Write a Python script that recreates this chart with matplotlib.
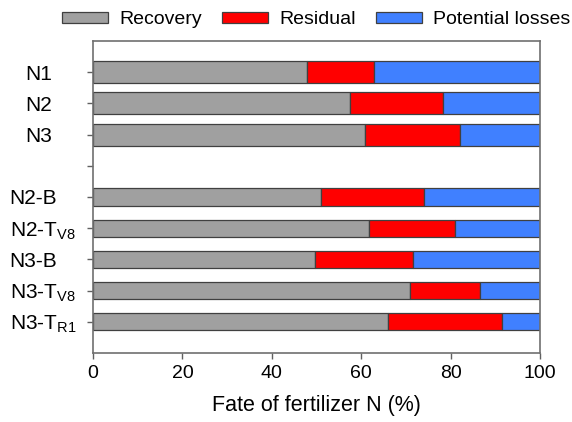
import matplotlib
matplotlib.use("Agg")
import matplotlib.pyplot as plt
import numpy as np

plt.rcParams['font.family'] = ['Liberation Sans', 'DejaVu Sans']
plt.rcParams['mathtext.fontset'] = 'custom'
plt.rcParams['mathtext.rm'] = 'Liberation Sans'

categories = ['N1', 'N2', 'N3', '', 'N2-B', r'N2-T$_\mathregular{V8}$', 'N3-B',
              r'N3-T$_\mathregular{V8}$', r'N3-T$_\mathregular{R1}$']
recovery = [47.8, 57.5, 60.9, np.nan, 51.1, 61.7, 49.7, 70.9, 66.1]
residual = [15.1, 20.7, 21.1, np.nan, 22.9, 19.3, 22.0, 15.6, 25.3]
losses = [37.1, 21.8, 18.0, np.nan, 26.0, 19.0, 28.3, 13.5, 8.6]
series_names = ['Recovery', 'Residual', 'Potential losses']
colors = ['#A0A0A0', '#FF0000', '#4080FF']

fig = plt.figure(figsize=(5.72, 4.22), dpi=100)
ax = fig.add_axes([93/572, 1-353/422, (540-93)/572, (353-41)/422])

y = np.arange(len(categories))
heights = np.array([0.70 if i < 3 else 0.55 for i in range(len(categories))])
rec = np.array(recovery, dtype=float)
valid = ~np.isnan(rec)
left = np.zeros(valid.sum())
for vals, name, col in zip([recovery, residual, losses], series_names, colors):
    v = np.array(vals, dtype=float)[valid]
    ax.barh(y[valid], v, left=left, height=heights[valid], color=col,
            edgecolor='#404040', linewidth=0.9, label=name)
    left = left + v

ax.set_xlim(0, 100)
ax.set_ylim(9, -1)
ax.set_xticks([0, 20, 40, 60, 80, 100])
ax.set_yticks(y)
ax.set_yticklabels(categories, fontsize=15)
ax.tick_params(axis='x', labelsize=14, length=4, width=1, color='#606060', pad=5)
ax.tick_params(axis='y', length=4, width=1, color='#606060')
for i, (tick, lab) in enumerate(zip(ax.yaxis.get_major_ticks(), ax.get_yticklabels())):
    lab.set_ha('left')
    if i < 3:
        tick.set_pad(44.5)
    else:
        tick.set_pad(56)

for s in ax.spines.values():
    s.set_color('#707070')
    s.set_linewidth(1.2)

ax.set_xlabel('Fate of fertilizer N (%)', fontsize=15.5, labelpad=9)

handles, labels = ax.get_legend_handles_labels()
fig.legend(handles, labels, loc='center left', bbox_to_anchor=(62/572, 1-20/422),
           ncol=3, frameon=False, fontsize=14, handlelength=2.35, handleheight=0.46,
           handletextpad=0.59, columnspacing=1.05, borderpad=0, borderaxespad=0)

fig.savefig('out.png', dpi=100)
